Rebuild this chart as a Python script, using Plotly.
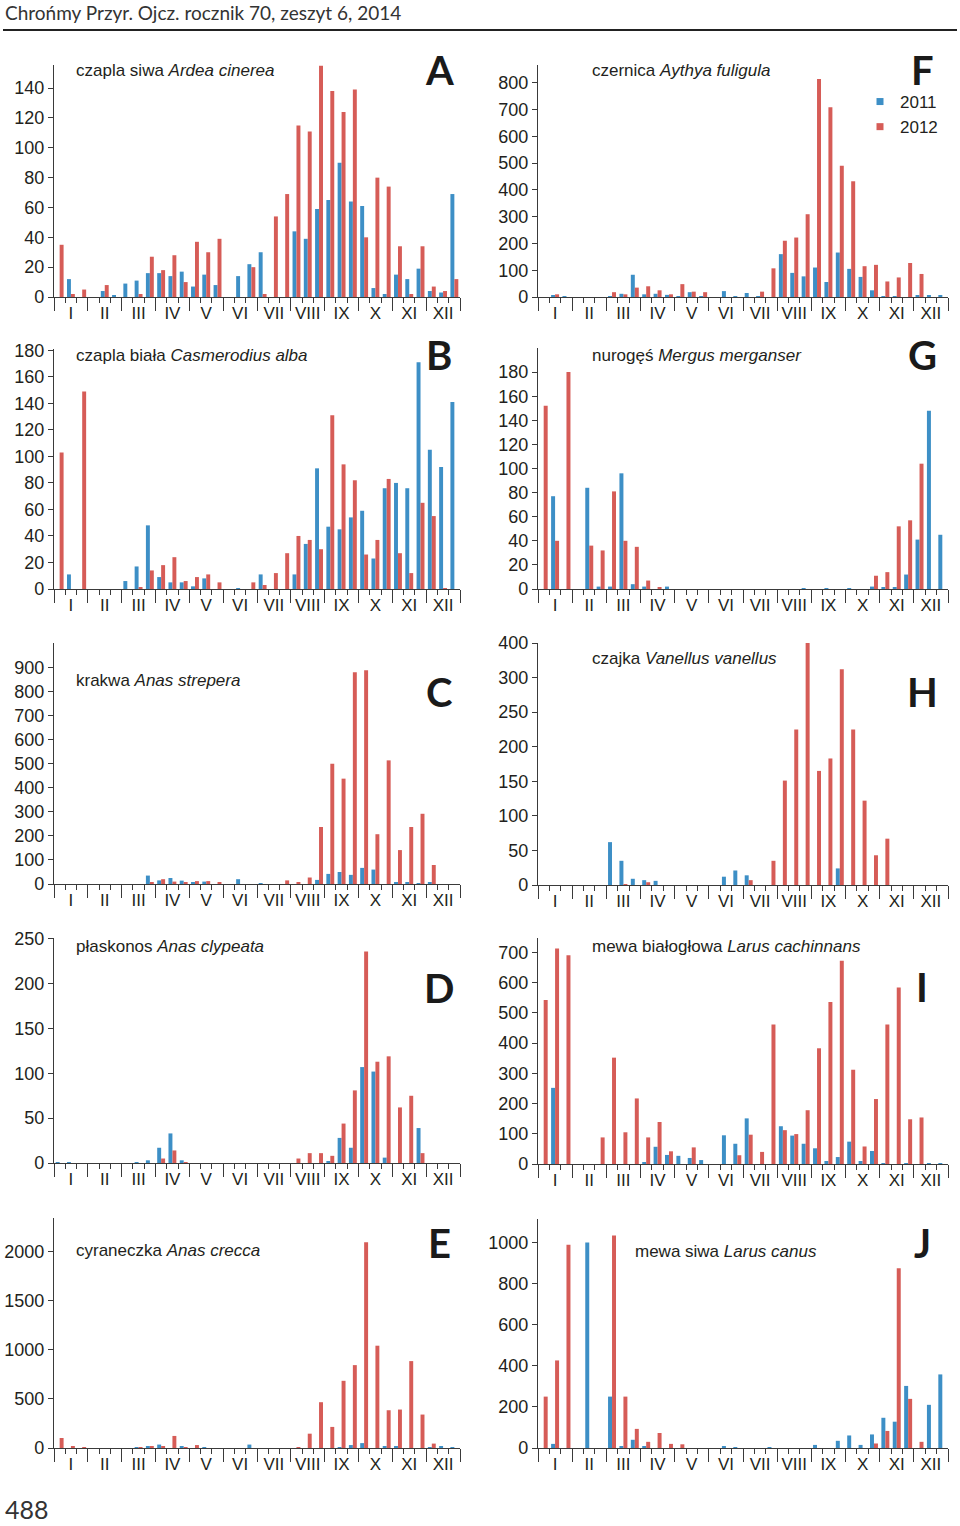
import plotly.graph_objects as go

W, H = 960, 1526
MONTHS = ["I", "II", "III", "IV", "V", "VI", "VII", "VIII", "IX", "X", "XI", "XII"]
DECADES = list(range(36))  # 3 decades per month

# ---- data: 36 decade values per series (2011 blue, 2012 red) ----
A_2011 = [0, 12, 0, 0, 4, 1, 9, 11, 16, 16, 14, 17, 7, 15, 8, 0, 14, 22,
          30, 0, 0, 44, 39, 59, 65, 90, 64, 61, 6, 2, 15, 12, 19, 4, 3, 69]
A_2012 = [35, 2, 5, 0, 8, 0, 0, 2, 27, 18, 28, 10, 37, 30, 39, 0, 0, 20,
          2, 54, 69, 115, 111, 155, 138, 124, 139, 40, 80, 74, 34, 2, 34, 7, 4, 12]

B_2011 = [0, 11, 0, 0, 0, 0, 6, 17, 48, 9, 5, 5, 2, 8, 0, 0, 0.5, 0,
          11, 0, 0, 11, 34, 91, 47, 45, 54, 59, 23, 76, 80, 76, 171, 105, 92, 141]
B_2012 = [103, 0, 149, 0, 0, 0, 0, 1, 14, 18, 24, 6, 9, 11, 5, 0, 0, 5,
          3, 12, 27, 40, 37, 30, 131, 94, 82, 26, 37, 83, 27, 12, 65, 55, 0.5, 0]

C_2011 = [0, 0, 0, 0, 0, 0, 0, 0, 35, 15, 25, 14, 5, 10, 0, 0, 20, 0,
          4, 0, 0, 0, 0, 17, 42, 50, 38, 67, 60, 0, 8, 8, 2, 5, 0, 0]
C_2012 = [0, 0, 0, 0, 0, 0, 0, 0, 5, 20, 10, 8, 12, 12, 5, 0, 0, 0,
          0, 0, 15, 5, 27, 237, 500, 438, 880, 889, 207, 514, 141, 237, 292, 79, 0, 0]

D_2011 = [1, 1, 0, 0, 0, 0, 0, 1, 3, 17, 33, 3, 0, 0, 0, 0, 0, 0,
          0, 0, 0, 0, 0, 0, 2, 28, 17, 107, 102, 6, 0, 0, 39, 0, 0, 0]
D_2012 = [0, 0, 0, 0, 0, 0, 0, 0, 0, 5, 14, 1, 0, 0, 0, 0, 0, 0,
          0, 0, 0, 5, 11, 11, 8, 44, 81, 236, 113, 119, 62, 75, 11, 0, 0, 0]

E_2011 = [0, 0, 0, 0, 0, 0, 0, 5, 20, 35, 0, 15, 0, 8, 0, 0, 0, 35,
          0, 0, 0, 0, 0, 0, 0, 8, 30, 50, 0, 20, 15, 0, 0, 10, 15, 5]
E_2012 = [102, 15, 5, 0, 0, 0, 0, 5, 15, 20, 123, 5, 30, 0, 0, 0, 0, 0,
          0, 0, 0, 5, 146, 467, 215, 685, 845, 2099, 1043, 385, 392, 886, 341, 45, 0, 0]

F_2011 = [0, 7, 1, 0, 0, 0, 3, 12, 83, 10, 12, 8, 3, 18, 3, 0, 22, 2,
          15, 2, 0, 160, 90, 77, 110, 56, 166, 105, 75, 25, 3, 3, 0, 7, 7, 7]
F_2012 = [0, 10, 0, 0, 0, 0, 18, 10, 35, 40, 25, 10, 48, 20, 18, 0, 0, 0,
          0, 20, 107, 210, 222, 309, 814, 708, 490, 432, 115, 120, 58, 73, 127, 86, 0, 0]

G_2011 = [0, 77, 0, 0, 84, 2, 2, 96, 4, 2, 0, 2, 0, 0, 0, 0, 0, 0,
          0, 0, 0, 0, 0, 0.5, 0, 0.5, 0, 0.5, 0, 2, 1, 1, 12, 41, 148, 45]
G_2012 = [152, 40, 180, 0, 36, 32, 81, 40, 35, 7, 1, 0, 0, 0, 0, 0, 0, 0,
          0, 0, 0, 0, 0, 0, 0, 0, 0, 0, 0, 11, 14, 52, 57, 104, 0, 0]

H_2011 = [0, 0, 0, 0, 0, 0, 62, 35, 9, 7, 6, 0, 0, 0, 0, 0, 12, 21,
          14, 0, 0, 0, 0, 0, 0, 0, 24, 0, 0, 0, 0, 0, 0, 0, 0, 0]
H_2012 = [0, 0, 0, 0, 0, 0, 0, 1, 0, 4, 0, 0, 0, 0, 0, 0, 0, 0,
          7, 0, 35, 151, 225, 350, 165, 183, 312, 225, 122, 43, 67, 0, 0, 0, 0, 0]

I_2011 = [0, 252, 0, 0, 0, 0, 0, 0, 0, 5, 57, 30, 27, 20, 13, 0, 95, 67,
          151, 0, 0, 125, 94, 67, 52, 10, 23, 74, 10, 43, 2, 0, 3, 0, 3, 3]
I_2012 = [543, 713, 691, 0, 0, 88, 352, 105, 217, 88, 139, 42, 0, 55, 0, 0, 0, 29,
          97, 40, 462, 112, 99, 178, 383, 536, 673, 312, 58, 215, 462, 584, 148, 154, 0, 0]

J_2011 = [0, 20, 0, 0, 1000, 0, 250, 5, 40, 5, 0, 0, 0, 0, 0, 0, 8, 3,
          0, 0, 2, 0, 0, 0, 15, 0, 35, 61, 15, 66, 147, 128, 302, 0, 210, 358]
J_2012 = [250, 426, 989, 0, 0, 0, 1034, 250, 93, 30, 73, 20, 18, 0, 0, 0, 0, 0,
          0, 0, 0, 0, 0, 0, 0, 0, 0, 0, 0, 22, 83, 875, 239, 30, 0, 0]

H_TICKVALS = [0, 50, 100, 150, 200, 250, 300, 350]
H_TICKTEXT = ["0", "50", "100", "150", "200", "250", "300", "400"]

BLUE = "#3d8fc6"
RED = "#d65c57"
INK = "#231f20"
AXIS = "#3a3a3a"
SANS = "Liberation Sans, Arial, sans-serif"
BOLD = "Lato, Open Sans, sans-serif"

# left column x 54..460, right column x 538..948 (pixels)
panels = [
    dict(k="A", b=A_2011, r=A_2012, name="czapla siwa <i>Ardea cinerea</i>",
         x0=54, x1=460, yt=65, yz=297, ymax=155.5, tv=list(range(0, 141, 20)), tt=None,
         nx=74, ny=71, lx=439, ly=70),
    dict(k="B", b=B_2011, r=B_2012, name="czapla biała <i>Casmerodius alba</i>",
         x0=54, x1=460, yt=349, yz=589, ymax=181, tv=list(range(0, 181, 20)), tt=None,
         nx=74, ny=355, lx=439, ly=355),
    dict(k="C", b=C_2011, r=C_2012, name="krakwa <i>Anas strepera</i>",
         x0=54, x1=460, yt=643, yz=884, ymax=1002, tv=list(range(0, 901, 100)), tt=None,
         nx=74, ny=680, lx=439, ly=692),
    dict(k="D", b=D_2011, r=D_2012, name="płaskonos <i>Anas clypeata</i>",
         x0=54, x1=460, yt=938, yz=1163, ymax=251, tv=list(range(0, 251, 50)), tt=None,
         nx=74, ny=946, lx=439, ly=988),
    dict(k="E", b=E_2011, r=E_2012, name="cyraneczka <i>Anas crecca</i>",
         x0=54, x1=460, yt=1218, yz=1448, ymax=2345, tv=list(range(0, 2001, 500)), tt=None,
         nx=74, ny=1250, lx=439, ly=1243),
    dict(k="F", b=F_2011, r=F_2012, name="czernica <i>Aythya fuligula</i>",
         x0=538, x1=948, yt=65, yz=297, ymax=866, tv=list(range(0, 801, 100)), tt=None,
         nx=590, ny=71, lx=922, ly=70),
    dict(k="G", b=G_2011, r=G_2012, name="nurogęś <i>Mergus merganser</i>",
         x0=538, x1=948, yt=348, yz=589, ymax=200, tv=list(range(0, 181, 20)), tt=None,
         nx=590, ny=355, lx=922, ly=355),
    dict(k="H", b=H_2011, r=H_2012, name="czajka <i>Vanellus vanellus</i>",
         x0=538, x1=948, yt=643, yz=885, ymax=350, tv=H_TICKVALS, tt=H_TICKTEXT,
         nx=590, ny=658, lx=922, ly=692),
    dict(k="I", b=I_2011, r=I_2012, name="mewa białogłowa <i>Larus cachinnans</i>",
         x0=538, x1=948, yt=938, yz=1164, ymax=748, tv=list(range(0, 701, 100)), tt=None,
         nx=590, ny=946, lx=922, ly=987),
    dict(k="J", b=J_2011, r=J_2012, name="mewa siwa <i>Larus canus</i>",
         x0=538, x1=948, yt=1219, yz=1448, ymax=1114, tv=list(range(0, 1001, 200)), tt=None,
         nx=633, ny=1251, lx=922, ly=1243),
]

month_centers = [3 * m + 1 for m in range(12)]
month_bounds = [3 * m - 0.5 for m in range(13)]
decade_bounds = [d - 0.5 for d in range(37)]

fig = go.Figure()
layout = dict(
    width=W, height=H, margin=dict(l=0, r=0, t=0, b=0, pad=0, autoexpand=False),
    paper_bgcolor="white", plot_bgcolor="white",
    barmode="group", bargap=0.3, bargroupgap=0,
    showlegend=True,
    font=dict(family=SANS, color=INK),
)
annotations = []
n = len(panels)
for i, p in enumerate(panels, start=1):
    xa, ya = f"x{i}", f"y{i}"
    ov = i + n
    fig.add_trace(go.Bar(x=DECADES, y=p["b"], marker=dict(color=BLUE, line=dict(width=0)),
                         xaxis=xa, yaxis=ya, name="2011", showlegend=False))
    fig.add_trace(go.Bar(x=DECADES, y=p["r"], marker=dict(color=RED, line=dict(width=0)),
                         xaxis=xa, yaxis=ya, name="2012", showlegend=False))
    # invisible trace so that the overlay axis (month/decade ticks) is drawn
    fig.add_trace(go.Scatter(x=[None], y=[None], xaxis=f"x{ov}", yaxis=ya,
                             showlegend=False, hoverinfo="skip"))
    xdom = [p["x0"] / W, p["x1"] / W]
    ydom = [1 - p["yz"] / H, 1 - p["yt"] / H]
    layout[f"xaxis{i}"] = dict(
        domain=xdom, anchor=ya, range=[-0.5, 35.5], automargin=False,
        tickmode="array", tickvals=month_centers, ticktext=MONTHS,
        ticks="", ticklabelstandoff=0,
        tickfont=dict(size=17, color=INK, family=SANS),
        showline=True, linecolor=AXIS, linewidth=1.3,
        showgrid=False, zeroline=False, fixedrange=True,
    )
    layout[f"xaxis{ov}"] = dict(
        overlaying=xa, anchor=ya, range=[-0.5, 35.5], automargin=False,
        tickmode="array", tickvals=month_bounds, ticks="outside", ticklen=13,
        tickwidth=1.3, tickcolor=AXIS, showticklabels=False,
        minor=dict(tickmode="array", tickvals=decade_bounds, ticks="outside",
                   ticklen=5, tickwidth=1, tickcolor=AXIS),
        showline=False, showgrid=False, zeroline=False, fixedrange=True,
    )
    yax = dict(
        domain=ydom, anchor=xa, range=[0, p["ymax"]], automargin=False,
        tickmode="array", tickvals=p["tv"],
        ticks="outside", ticklen=5, tickwidth=1.3, tickcolor=AXIS,
        tickfont=dict(size=18, color=INK, family=SANS),
        showline=True, linecolor=AXIS, linewidth=1.3,
        showgrid=False, zeroline=False, fixedrange=True,
    )
    if p["tt"] is not None:
        yax["ticktext"] = p["tt"]
    layout[f"yaxis{i}"] = yax
    annotations.append(dict(xref="paper", yref="paper", x=p["nx"] / W, y=1 - p["ny"] / H,
                            xanchor="left", yanchor="middle", showarrow=False,
                            text=p["name"], font=dict(size=17, color=INK, family=SANS)))
    annotations.append(dict(xref="paper", yref="paper", x=p["lx"] / W, y=1 - p["ly"] / H,
                            xanchor="center", yanchor="middle", showarrow=False,
                            text=f"<b>{p['k']}</b>", font=dict(size=40, color="#1a1a1a", family=BOLD)))

# legend entries (shown in panel F)
fig.add_trace(go.Scatter(x=[None], y=[None], mode="markers", name="2011",
                         marker=dict(symbol="square", size=7, color=BLUE),
                         xaxis="x6", yaxis="y6"))
fig.add_trace(go.Scatter(x=[None], y=[None], mode="markers", name="2012",
                         marker=dict(symbol="square", size=7, color=RED),
                         xaxis="x6", yaxis="y6"))
layout["legend"] = dict(x=860 / W, y=1 - 84 / H, xanchor="left", yanchor="top",
                        bgcolor="rgba(0,0,0,0)", font=dict(size=17, color=INK, family=SANS),
                        itemwidth=30, tracegroupgap=0)

# header and page number
annotations.append(dict(xref="paper", yref="paper", x=3 / W, y=1 - 12 / H,
                        xanchor="left", yanchor="middle", showarrow=False,
                        text="Chrońmy Przyr. Ojcz. rocznik 70, zeszyt 6, 2014",
                        font=dict(size=19, color="#333333", family="Lato, sans-serif")))
annotations.append(dict(xref="paper", yref="paper", x=3 / W, y=1 - 1509 / H,
                        xanchor="left", yanchor="middle", showarrow=False,
                        text="488", font=dict(size=25, color="#333333", family="Lato, sans-serif")))
layout["annotations"] = annotations
layout["shapes"] = [dict(type="line", xref="paper", yref="paper",
                         x0=3 / W, x1=957 / W, y0=1 - 30 / H, y1=1 - 30 / H,
                         line=dict(color="#222222", width=2))]

fig.update_layout(**layout)
fig.write_html(
    "out.html",
    config={"displayModeBar": False},
    post_script=(
        "var gd=document.getElementById('{plot_id}');"
        "gd.style.position='fixed';gd.style.top='0px';gd.style.left='0px';"
        "document.documentElement.style.margin='0';document.body.style.margin='0';"
        "document.body.style.padding='0';document.body.style.overflow='hidden';"
        "document.documentElement.style.overflow='hidden';"
    ),
)
